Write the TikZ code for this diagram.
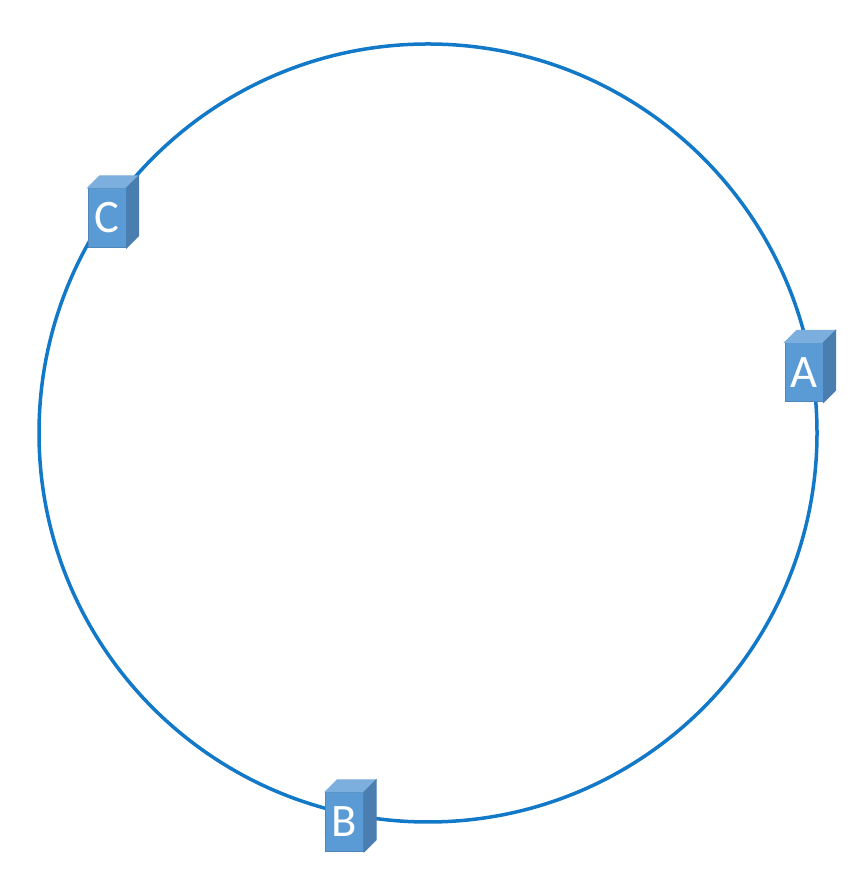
\documentclass[tikz,border=0pt]{standalone}
\usepackage{fontspec}
\setmainfont{Carlito}
\definecolor{ringblue}{HTML}{1278C8}
\definecolor{frontblue}{HTML}{5B9BD5}
\definecolor{topblue}{HTML}{7CAFDD}
\definecolor{sideblue}{HTML}{4A7EB0}
\tikzset{
  ring/.style={draw=ringblue, line width=.07cm},
  front/.style={fill=frontblue, draw=sideblue!70!frontblue, line width=.02cm, text=white, inner sep=0pt,
    minimum width=.76cm, minimum height=1.18cm, font=\fontsize{26.5}{26.5}\selectfont},
  topface/.style={fill=topblue, draw=topblue, line width=.02cm},
  sideface/.style={fill=sideblue, draw=sideblue, line width=.02cm}
}
\begin{document}
\begin{tikzpicture}
\useasboundingbox (0,0) rectangle (17.3,17.56);
\draw[ring] (8.56,8.9) circle (7.78cm);
\foreach \name/\x/\y in {A/16.08/10.11,B/6.89/1.12,C/2.14/13.2}
{
\node[front] (\name) at (\x,\y) {\name};
\draw[topface] (\name.north west) -- +(.24,.24) -- ([shift={(.24,.24)}]\name.north east) -- (\name.north east) -- cycle;
\draw[sideface] (\name.north east) -- +(.24,.24) -- ([shift={(.24,.24)}]\name.south east) -- (\name.south east) -- cycle;
}
\end{tikzpicture}
\end{document}
